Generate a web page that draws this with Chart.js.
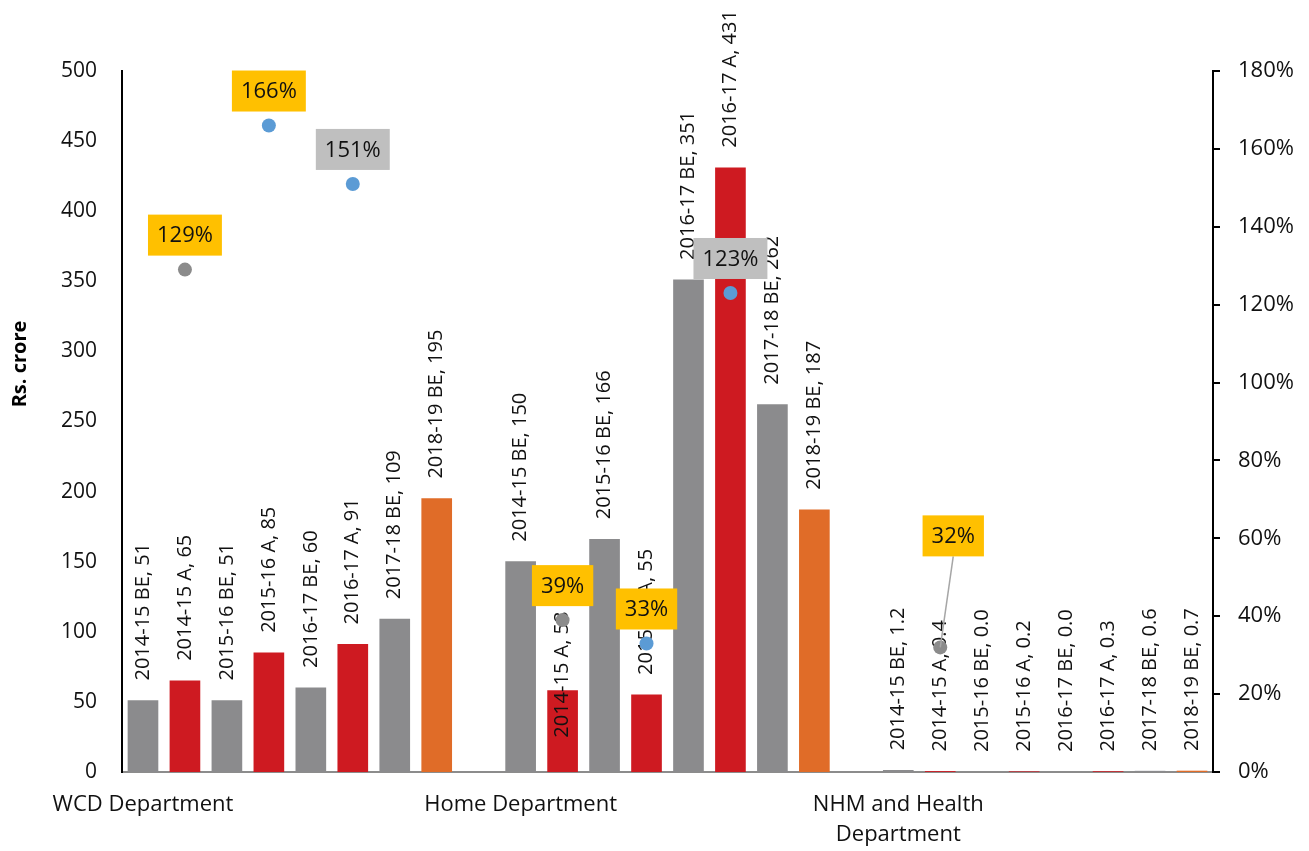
<!DOCTYPE html>
<html>
<head>
<meta charset="utf-8">
<script src="https://cdn.jsdelivr.net/npm/chart.js@4"></script>
<style>
html, body { margin: 0; padding: 0; background: #fff; }
#wrap { width: 1309px; height: 851px; }
</style>
</head>
<body>
<div id="wrap"><canvas id="budgetChart" width="1309" height="851"></canvas></div>
<script>
var periods = ['2014-15 BE', '2014-15 A', '2015-16 BE', '2015-16 A', '2016-17 BE', '2016-17 A', '2017-18 BE', '2018-19 BE'];
var departments = ['WCD Department', 'Home Department', ['NHM and Health', 'Department']];

// Rs. crore
var wcdValues = [51, 65, 51, 85, 60, 91, 109, 195];
var homeValues = [150, 58, 166, 55, 351, 431, 262, 187];
var nhmValues = [1.2, 0.4, 0.0, 0.2, 0.0, 0.3, 0.6, 0.7];

// actual spend as % of BE, shown on the right axis
var util1415 = [129, 39, 32];
var util1516 = [166, 33, null];
var util1617 = [151, 123, null];

var FONT = '"Open Sans", sans-serif';

// lay the three departments out on one category axis, with a blank slot between groups
var deptValues = [wcdValues, homeValues, nhmValues];
var xLabels = [], barValues = [], barPeriods = [], pts1415 = [], pts1516 = [], pts1617 = [];
deptValues.forEach(function (vals, d) {
    if (d > 0) {
        xLabels.push('');
        barValues.push(null);
        barPeriods.push('');
        pts1415.push(null);
        pts1516.push(null);
        pts1617.push(null);
    }
    vals.forEach(function (v, i) {
        xLabels.push(i === 0 ? departments[d] : '');
        barValues.push(v);
        barPeriods.push(periods[i]);
        pts1415.push(i === 1 ? util1415[d] : null);
        pts1516.push(i === 3 ? util1516[d] : null);
        pts1617.push(i === 5 ? util1617[d] : null);
    });
});

var barColors = barPeriods.map(function (p) {
    if (p.indexOf('2018-19') === 0) return '#E06C28';
    if (p.indexOf(' A') > 0) return '#CE1A21';
    return '#8B8B8D';
});

// a couple of labels were moved by hand in the original
var labelShift = { 10: 67 };
var boxShift = { 19: { dx: 13, dy: -77, leader: true } };

var labelPlugin = {
    id: 'labels',
    afterDatasetDraw: function (chart, args) {
        if (args.meta.type !== 'bar') return;
        var ctx = chart.ctx;
        ctx.save();
        ctx.font = '20px ' + FONT;
        ctx.fillStyle = '#111';
        ctx.textAlign = 'left';
        ctx.textBaseline = 'middle';
        args.meta.data.forEach(function (bar, i) {
            var v = barValues[i];
            if (v === null) return;
            var text = barPeriods[i] + ', ' + (v < 5 ? v.toFixed(1) : v);
            ctx.save();
            ctx.translate(bar.x, bar.y - 20 + (labelShift[i] || 0));
            ctx.rotate(-Math.PI / 2);
            ctx.fillText(text, 0, 0);
            ctx.restore();
        });
        ctx.restore();
    },
    afterDatasetsDraw: function (chart) {
        var ctx = chart.ctx;
        ctx.save();
        ctx.font = '22px ' + FONT;
        ctx.textAlign = 'center';
        ctx.textBaseline = 'middle';
        chart.data.datasets.forEach(function (ds, di) {
            if (!ds.boxColor) return;
            var meta = chart.getDatasetMeta(di);
            meta.data.forEach(function (pt, i) {
                var v = ds.data[i];
                if (v === null) return;
                var text = v + '%';
                var w = ctx.measureText(text).width + 18;
                var h = 41;
                var sh = boxShift[i] || { dx: 0, dy: 0 };
                var cx = pt.x + sh.dx;
                var bottom = pt.y - 14 + sh.dy;
                if (sh.leader) {
                    ctx.strokeStyle = '#A6A6A6';
                    ctx.lineWidth = 1.5;
                    ctx.beginPath();
                    ctx.moveTo(cx, bottom);
                    ctx.lineTo(pt.x, pt.y);
                    ctx.stroke();
                }
                ctx.fillStyle = ds.boxColor;
                ctx.fillRect(cx - w / 2, bottom - h, w, h);
                ctx.fillStyle = '#111';
                ctx.fillText(text, cx, bottom - h / 2 + 1);
            });
        });
        // left axis title
        ctx.font = 'bold 20px ' + FONT;
        ctx.fillStyle = '#000';
        ctx.translate(20, 364);
        ctx.rotate(-Math.PI / 2);
        ctx.fillText('Rs. crore', 0, 0);
        ctx.restore();
    }
};

var ctx = document.getElementById('budgetChart').getContext('2d');
var myChart = new Chart(ctx, {
    type: 'bar',
    data: {
        labels: xLabels,
        datasets: [{
            label: 'Rs. crore',
            data: barValues,
            backgroundColor: barColors,
            barThickness: 30,
            order: 2
        }, {
            type: 'line',
            label: '2014-15 A / BE',
            data: pts1415,
            yAxisID: 'y1',
            showLine: false,
            pointRadius: 7,
            pointBorderWidth: 0,
            pointBackgroundColor: '#8B8B8B',
            boxColor: '#FFC000',
            order: 1
        }, {
            type: 'line',
            label: '2015-16 A / BE',
            data: pts1516,
            yAxisID: 'y1',
            showLine: false,
            pointRadius: 7,
            pointBorderWidth: 0,
            pointBackgroundColor: '#5B9BD5',
            boxColor: '#FFC000',
            order: 1
        }, {
            type: 'line',
            label: '2016-17 A / BE',
            data: pts1617,
            yAxisID: 'y1',
            showLine: false,
            pointRadius: 7,
            pointBorderWidth: 0,
            pointBackgroundColor: '#5B9BD5',
            boxColor: '#BFBFBF',
            order: 1
        }]
    },
    options: {
        responsive: false,
        animation: false,
        layout: { padding: { top: 71, left: 0, right: 0, bottom: 0 } },
        plugins: {
            legend: { display: false },
            tooltip: { enabled: false }
        },
        scales: {
            x: {
                grid: { display: false, drawTicks: false },
                border: { display: true, color: '#8C8C8C', width: 2 },
                ticks: {
                    autoSkip: false,
                    maxRotation: 0,
                    padding: 17,
                    color: '#111',
                    font: { family: FONT, size: 22, lineHeight: 1.4 }
                },
                afterFit: function (s) { s.height = 79; }
            },
            y: {
                position: 'left',
                min: 0,
                max: 500,
                ticks: {
                    stepSize: 50,
                    padding: 25,
                    color: '#111',
                    font: { family: FONT, size: 21 }
                },
                grid: { display: false, drawTicks: false },
                border: { display: true, color: '#000', width: 2 },
                afterFit: function (s) { s.width = 122; }
            },
            y1: {
                position: 'right',
                min: 0,
                max: 180,
                ticks: {
                    stepSize: 20,
                    padding: 18,
                    color: '#111',
                    font: { family: FONT, size: 22 },
                    callback: function (v) { return v + '%'; }
                },
                grid: { display: true, drawOnChartArea: false, tickLength: 7, color: '#000', lineWidth: 2 },
                border: { display: true, color: '#000', width: 2 },
                afterFit: function (s) { s.width = 96; }
            }
        }
    },
    plugins: [labelPlugin]
});
</script>
</body>
</html>
